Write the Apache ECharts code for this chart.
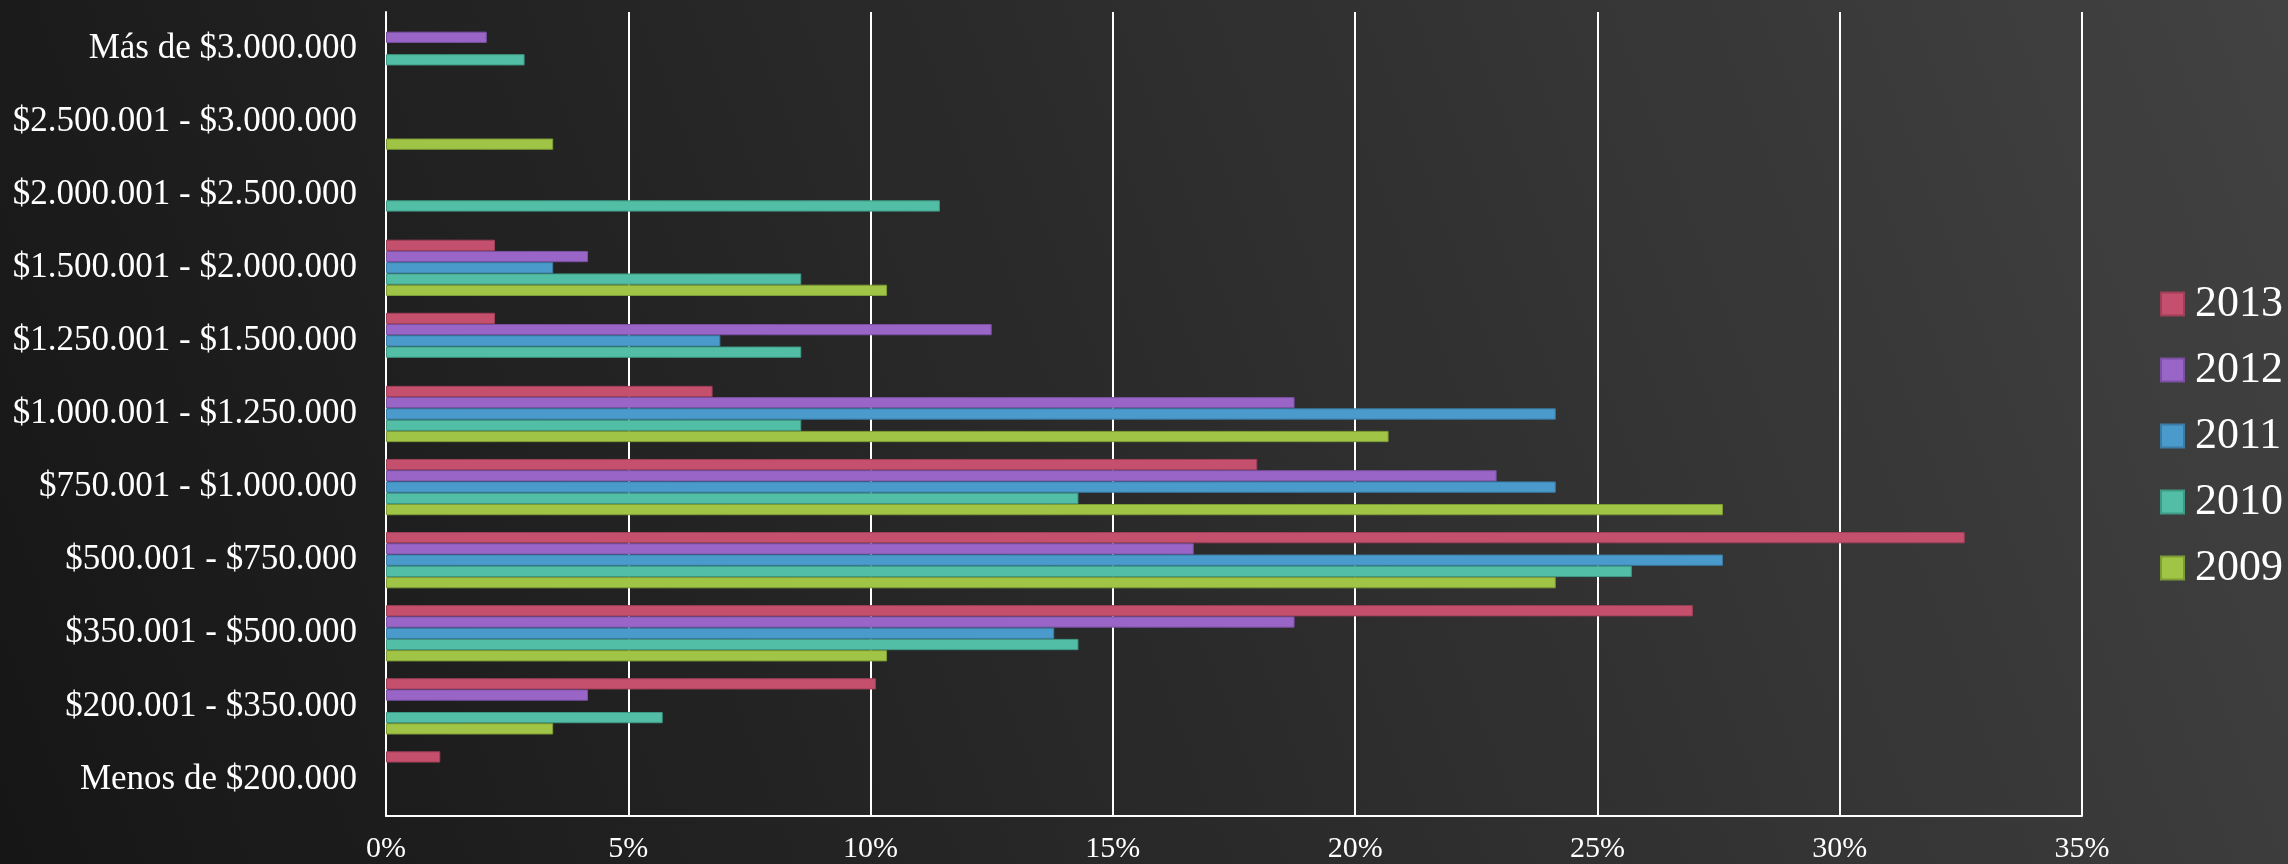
<!DOCTYPE html>
<html>
<head>
<meta charset="utf-8">
<script src="https://cdn.jsdelivr.net/npm/echarts@6/dist/echarts.min.js"></script>
<style>
html,body{margin:0;padding:0;width:2288px;height:864px;overflow:hidden;background:#2a2a2a;}
#chart{width:2288px;height:864px;}
</style>
</head>
<body>
<div id="chart"></div>
<script>
// Categories (bottom to top)
const categories = [
  'Menos de $200.000',
  '$200.001 - $350.000',
  '$350.001 - $500.000',
  '$500.001 - $750.000',
  '$750.001 - $1.000.000',
  '$1.000.001 - $1.250.000',
  '$1.250.001 - $1.500.000',
  '$1.500.001 - $2.000.000',
  '$2.000.001 - $2.500.000',
  '$2.500.001 - $3.000.000',
  'Más de $3.000.000'
];
// Percent values per year, same order as categories (null = no bar)
const v2013 = [1.12, 10.11, 26.97, 32.58, 17.98, 6.74, 2.25, 2.25, null, null, null];
const v2012 = [null, 4.17, 18.75, 16.67, 22.92, 18.75, 12.50, 4.17, null, null, 2.08];
const v2011 = [null, null, 13.79, 27.59, 24.14, 24.14, 6.90, 3.45, null, null, null];
const v2010 = [null, 5.71, 14.29, 25.71, 14.29, 8.57, 8.57, 8.57, 11.43, null, 2.86];
const v2009 = [null, 3.45, 10.34, 24.14, 27.59, 20.69, null, 10.34, null, 3.45, null];
const xTicks = [0, 5, 10, 15, 20, 25, 30, 35];

const seriesNames = ['2013', '2012', '2011', '2010', '2009'];
const seriesData = [v2013, v2012, v2011, v2010, v2009];
const colors = ['#C4506E', '#9966C8', '#4A9BCC', '#52BEA5', '#A0C546'];
const borders = ['#A03F59', '#7B50A3', '#3A7CA6', '#3F9A85', '#7E9C36'];

const chart = echarts.init(document.getElementById('chart'), null, {renderer: 'canvas'});
const FONT = '"Liberation Serif", "DejaVu Serif", serif';

const option = {
  animation: false,
  backgroundColor: {
    type: 'linear', x: 0, y: 1, x2: 1, y2: 0,
    colorStops: [
      {offset: 0, color: '#161616'},
      {offset: 0.5, color: '#2b2b2b'},
      {offset: 1, color: '#424242'}
    ]
  },
  grid: {left: 386, right: 206, top: 12, bottom: 48, containLabel: false},
  legend: {
    orient: 'vertical',
    left: 2155,
    top: 277,
    data: ['2013', '2012', '2011', '2010', '2009'],
    itemWidth: 23,
    itemHeight: 23,
    itemGap: 22,
    icon: 'rect',
    textStyle: {color: '#ffffff', fontFamily: FONT, fontSize: 44, lineHeight: 42, padding: [0, 0, 0, 6]}
  },
  xAxis: {
    type: 'value',
    min: xTicks[0],
    max: xTicks[xTicks.length - 1],
    interval: 5,
    axisLine: {show: true, lineStyle: {color: '#ffffff', width: 2}},
    axisTick: {show: false},
    splitLine: {show: true, lineStyle: {color: '#ffffff', width: 2}},
    axisLabel: {color: '#ffffff', fontFamily: FONT, fontSize: 30, margin: 18, formatter: '{value}%'}
  },
  yAxis: {
    type: 'category',
    data: categories,
    axisLine: {show: true, lineStyle: {color: '#ffffff', width: 2}},
    axisTick: {show: false},
    splitLine: {show: false},
    axisLabel: {color: '#ffffff', fontFamily: FONT, fontSize: 35, margin: 29}
  },
  series: seriesNames.map((name, i) => ({
    name: name,
    type: 'bar',
    data: seriesData[i],
    barGap: '0%',
    barCategoryGap: '23%',
    itemStyle: {color: colors[i], borderColor: borders[i], borderWidth: 1}
  }))
};
chart.setOption(option);
</script>
</body>
</html>
